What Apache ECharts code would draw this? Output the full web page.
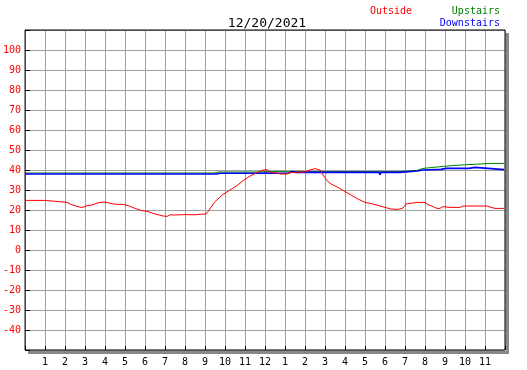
<!DOCTYPE html>
<html>
<head>
<meta charset="utf-8">
<script src="https://cdn.jsdelivr.net/npm/echarts@6/dist/echarts.min.js"></script>
<style>
html,body{margin:0;padding:0;background:#fff;}
#c{width:527px;height:370px;}
</style>
</head>
<body>
<div id="c"></div>
<script>
const title = '12/20/2021';
const seriesNames = ['Outside', 'Upstairs', 'Downstairs'];
const seriesColors = ['#ff0000', '#008000', '#0000ff'];
const yTicks = [-40, -30, -20, -10, 0, 10, 20, 30, 40, 50, 60, 70, 80, 90, 100];
const hourLabels = ['', '1','2','3','4','5','6','7','8','9','10','11','12','1','2','3','4','5','6','7','8','9','10','11',''];

const outsideHours = [0,0.95,1.0,1.6,1.65,2.1,2.3,2.6,2.8,2.95,3.1,3.4,3.6,3.85,4.1,4.3,4.6,4.9,5.0,5.15,5.5,5.8,6.15,6.5,6.9,7.1,7.25,7.5,8.0,8.5,8.8,9.05,9.15,9.25,9.4,9.5,9.9,10.25,10.6,10.9,11.25,11.6,11.9,12.0,12.1,12.3,12.6,12.75,13.1,13.25,13.35,13.5,14.0,14.25,14.5,14.75,14.9,15.1,15.3,15.65,16.0,16.35,16.65,17.0,17.3,17.65,18.0,18.3,18.65,18.9,19.05,19.6,20.0,20.15,20.4,20.6,20.75,20.9,21.25,21.75,21.9,22.5,22.6,23.1,23.3,23.5,23.95];
const outsideTemps = [24.8,24.8,24.3,24.3,23.8,23.8,22.8,21.8,21.3,21.5,22.2,22.6,23.5,23.9,23.8,23.2,22.8,22.8,22.4,22.2,20.8,19.8,19.2,18.0,17.0,16.8,17.6,17.5,17.7,17.6,17.9,18.0,19.2,20.0,22.8,24.2,27.8,30.0,32.2,34.7,37.0,38.7,40.0,40.8,40.2,38.7,38.5,38.0,38.0,38.7,39.2,38.8,39.0,40.0,40.7,40.0,37.5,34.7,33.0,31.3,29.2,27.2,25.5,23.8,23.2,22.3,21.3,20.5,20.3,21.0,23.0,23.8,23.8,22.7,21.7,20.8,20.8,21.7,21.3,21.3,22.0,22.0,21.7,22.0,21.3,20.8,20.8];

const upstairsHours = [0,9.45,9.5,9.55,9.65,11.6,12.0,18.7,18.75,19.6,19.65,19.9,20.4,20.9,21.5,22.2,22.75,23.25,23.95];
const upstairsTemps = [38.5,38.5,38.8,38.5,39.0,39.0,39.2,39.2,39.8,39.8,40.5,40.8,41.3,41.8,42.3,42.7,43.0,43.3,43.3];

const downstairsHours = [0,9.6,9.75,11.6,12.0,12.5,13.2,13.35,13.45,13.55,14.9,14.95,15.0,15.25,15.3,15.35,15.8,15.85,15.9,17.7,17.75,17.8,18.2,18.25,18.3,18.75,18.8,19.6,19.7,19.9,20.8,21.05,22.2,22.25,22.5,22.6,23.95];
const downstairsTemps = [38.0,38.0,38.4,38.4,38.5,38.4,38.5,39.3,39.3,38.8,38.8,38.3,38.8,38.8,38.3,38.8,38.8,38.3,38.8,38.8,37.6,38.8,38.8,38.3,38.8,38.8,39.5,39.5,39.3,40.0,40.3,40.8,40.8,41.3,41.3,40.3,40.2];

function pairs(xs, ys){ return xs.map((x,i)=>[x, ys[i]]); }

const FONT = 'DejaVu Sans Mono';
const chart = echarts.init(document.getElementById('c'), null, {renderer:'canvas'});
chart.setOption({
  animation: false,
  backgroundColor: '#fff',
  grid: {left:25, top:30, width:480, height:320, show:true, borderColor:'#000', borderWidth:1, backgroundColor:'transparent', z:3},
  title: {text: title, left: 262, top: 12, textAlign:'center',
    textStyle:{fontFamily:FONT, fontSize:13, fontWeight:'normal', color:'#000'}},
  graphic: [
    {type:'rect', shape:{x:506, y:33, width:3, height:320}, style:{fill:'#888'}, z:1},
    {type:'rect', shape:{x:28, y:351, width:481, height:3}, style:{fill:'#888'}, z:1},
    {type:'text', left:370, top:6, style:{text:seriesNames[0], fill:seriesColors[0], font:'10px "'+FONT+'"'}},
    {type:'text', right:27, top:6, style:{text:seriesNames[1], fill:seriesColors[1], font:'10px "'+FONT+'"', textAlign:'right'}},
    {type:'text', right:27, top:18, style:{text:seriesNames[2], fill:seriesColors[2], font:'10px "'+FONT+'"', textAlign:'right'}}
  ],
  xAxis: {type:'value', min:0, max:24, interval:1,
    axisLine:{show:false, onZero:false},
    axisTick:{show:true, inside:true, length:4, lineStyle:{color:'#000'}},
    splitLine:{show:true, lineStyle:{color:'#a0a0a0', width:1}},
    axisLabel:{fontFamily:FONT, fontSize:10, color:'#000', margin:7,
      formatter: v => hourLabels[Math.round(v)] || ''}
  },
  yAxis: {type:'value', min:-50, max:110, interval:10,
    axisLine:{show:false, onZero:false},
    axisTick:{show:true, inside:true, length:5, lineStyle:{color:'#000'}},
    splitLine:{show:true, lineStyle:{color:'#a0a0a0', width:1}},
    axisLabel:{fontFamily:FONT, fontSize:10, color:'#ff0000', margin:4,
      formatter: v => yTicks.indexOf(v) >= 0 ? String(v) : ''}
  },
  series: [
    {name:seriesNames[1], type:'line', data:pairs(upstairsHours, upstairsTemps), showSymbol:false, lineStyle:{color:seriesColors[1], width:1}, z:4},
    {name:seriesNames[2], type:'line', data:pairs(downstairsHours, downstairsTemps), showSymbol:false, lineStyle:{color:seriesColors[2], width:1.6}, z:5},
    {name:seriesNames[0], type:'line', data:pairs(outsideHours, outsideTemps), showSymbol:false, lineStyle:{color:seriesColors[0], width:1}, z:6}
  ]
});
</script>
</body>
</html>
